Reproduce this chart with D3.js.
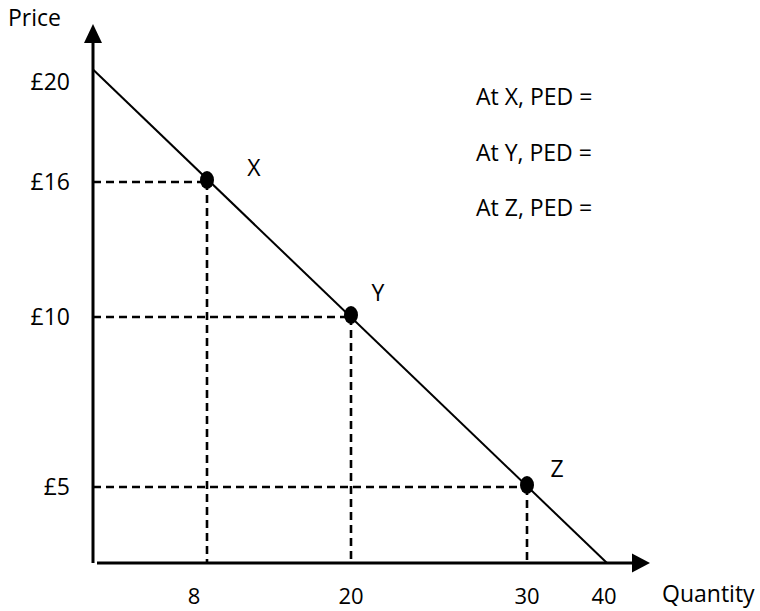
<!DOCTYPE html>
<html><head><meta charset="utf-8">
<script src="https://cdn.jsdelivr.net/npm/d3@7"></script>
<style>body{margin:0;background:#fff}svg{display:block}text{font-family:"Open Sans",sans-serif;fill:#000}</style>
</head><body>
<svg id="c" width="760" height="611"></svg>
<script>
// data
const quantityTicks = [8, 20, 30, 40];
const priceTicks = [5, 10, 16, 20];
const priceTickLabels = ["£5", "£10", "£16", "£20"];
const pointNames = ["X", "Y", "Z"];
const pointQ = [8, 20, 30];
const pointP = [16, 10, 5];
const demandQ = [0, 40];
const demandP = [20.5, 0];
const pedLabels = ["At X, PED =", "At Y, PED =", "At Z, PED ="];

const svg = d3.select("#c");
// the original sketch is not drawn to scale: piecewise scales
const x = d3.scaleLinear().domain([0, 8, 20, 30, 40]).range([93, 207, 351, 527, 607]);
const y = d3.scaleLinear().domain([0, 5, 10, 16, 20]).range([563, 487, 317, 182, 82]);

const x0 = x(0), y0 = y(0);

// dashed guides
const g = svg.append("g");
pointQ.forEach((q, i) => {
  g.append("line").attr("x1", x0).attr("x2", x(q)).attr("y1", y(pointP[i])).attr("y2", y(pointP[i]))
    .attr("stroke", "#000").attr("stroke-width", 2.6).attr("stroke-dasharray", "8,5");
  g.append("line").attr("x1", x(q)).attr("x2", x(q)).attr("y1", y(pointP[i])).attr("y2", y0)
    .attr("stroke", "#000").attr("stroke-width", 2.6).attr("stroke-dasharray", "8,5");
});

// demand line
const line = d3.line().x((d) => x(d[0])).y((d) => y(d[1]));
svg.append("path").datum(demandQ.map((q, i) => [q, demandP[i]]))
  .attr("d", line).attr("fill", "none").attr("stroke", "#000").attr("stroke-width", 2);

// axes
svg.append("line").attr("x1", x0).attr("x2", x0).attr("y1", y0).attr("y2", 40)
  .attr("stroke", "#000").attr("stroke-width", 3);
svg.append("path").attr("d", `M${x0},24 L${x0 + 9},43 L${x0 - 9},43 Z`).attr("fill", "#000");
svg.append("line").attr("x1", x0 + 4).attr("x2", 636).attr("y1", y0).attr("y2", y0)
  .attr("stroke", "#000").attr("stroke-width", 3);
svg.append("path").attr("d", `M650,${y0} L632,${y0 - 9.5} L632,${y0 + 9.5} Z`).attr("fill", "#000");

// tick labels
svg.selectAll(".yt").data(priceTicks).enter().append("text")
  .attr("x", 70).attr("y", (d) => y(d) + 8).attr("text-anchor", "end")
  .attr("font-size", 23).text((d, i) => priceTickLabels[i]);
const xOff = [-13, 0, 0, -3];
svg.selectAll(".xt").data(quantityTicks).enter().append("text")
  .attr("x", (d, i) => x(d) + xOff[i]).attr("y", 604).attr("text-anchor", "middle")
  .attr("font-size", 22).text((d) => d);

svg.append("text").attr("x", 8).attr("y", 26).attr("font-size", 23).text("Price");
svg.append("text").attr("x", 662).attr("y", 602).attr("font-size", 23).text("Quantity");

// points
svg.selectAll(".pt").data(pointQ).enter().append("ellipse")
  .attr("cx", (d) => x(d)).attr("cy", (d, i) => y(pointP[i]) - 2)
  .attr("rx", 7).attr("ry", 9).attr("fill", "#000");
const lblOff = [[47, -14], [27, -24], [30, -18]];
svg.selectAll(".pl").data(pointNames).enter().append("text")
  .attr("x", (d, i) => x(pointQ[i]) + lblOff[i][0]).attr("y", (d, i) => y(pointP[i]) + lblOff[i][1] + 8)
  .attr("text-anchor", "middle").attr("font-size", 23).text((d) => d);

// PED notes
svg.selectAll(".ped").data(pedLabels).enter().append("text")
  .attr("x", 476).attr("y", (d, i) => 105 + i * 55.5).attr("font-size", 23).text((d) => d);
</script>
</body></html>
